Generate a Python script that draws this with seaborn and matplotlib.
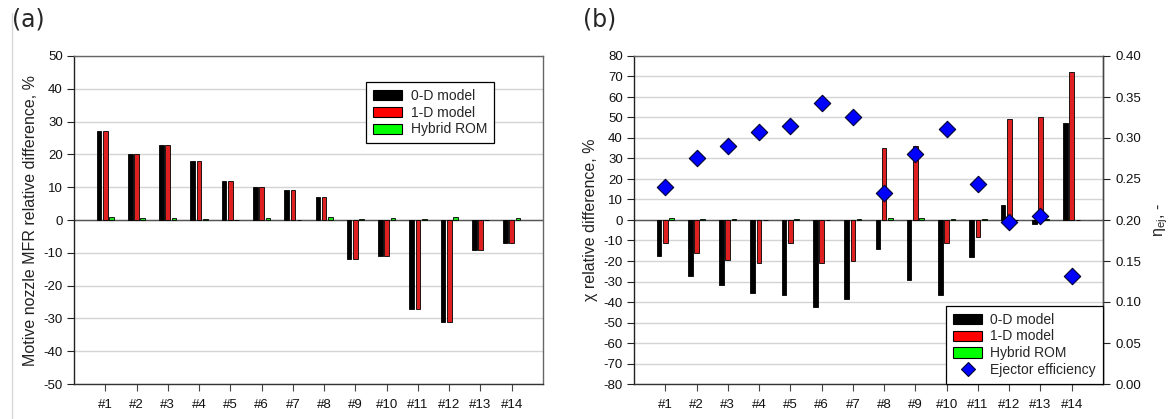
import numpy as np
import pandas as pd
import matplotlib
matplotlib.use("Agg")
import matplotlib.pyplot as plt
import seaborn as sns
from matplotlib.patches import Patch
from matplotlib.lines import Line2D
from matplotlib.ticker import MultipleLocator, FormatStrFormatter

# ---------------- data ----------------
cases = ["#1", "#2", "#3", "#4", "#5", "#6", "#7", "#8", "#9", "#10", "#11", "#12", "#13", "#14"]
series = ["0-D model", "1-D model", "Hybrid ROM"]
series_colors = ["#000000", "#ff0000", "#00ff00"]

mfr_0d = [27, 20, 23, 18, 12, 10, 9, 7, -12, -11, -27, -31, -9, -7]
mfr_1d = [27, 20, 23, 18, 12, 10, 9, 7, -12, -11, -27, -31, -9, -7]
mfr_rom = [0.9, 0.7, 0.5, 0.4, 0.1, 0.5, 0.1, 1.0, 0.4, 0.6, 0.3, 0.8, 0.1, 0.6]

chi_0d = [-17.5, -27.5, -31.5, -35.5, -36.5, -42.5, -38.5, -14.3, -29.2, -36.4, -18.1, 7.2, -2.0, 47.2]
chi_1d = [-11.3, -16.3, -19.3, -21.2, -11.3, -21.2, -20.2, 35.1, 36.0, -11.1, -8.2, 49.2, 50.1, 72.3]
chi_rom = [1.0, 0.3, 0.4, 0.1, 0.5, 0.1, 0.3, 0.9, 0.8, 0.3, 0.3, 0.1, 0.4, 0.1]

ejector_eff = [0.240, 0.275, 0.290, 0.307, 0.315, 0.343, 0.325, 0.233, 0.280, 0.311, 0.244, 0.197, 0.205, 0.132]


def long_df(a, b, c):
    return pd.DataFrame({
        "case": cases * 3,
        "model": [series[0]] * len(cases) + [series[1]] * len(cases) + [series[2]] * len(cases),
        "value": list(a) + list(b) + list(c),
    })


df_a = long_df(mfr_0d, mfr_1d, mfr_rom)
df_b = long_df(chi_0d, chi_1d, chi_rom)

# ---------------- style ----------------
sns.set_style("white")
plt.rcParams["font.family"] = ["Liberation Sans", "DejaVu Sans"]
plt.rcParams["mathtext.default"] = "regular"
plt.rcParams["axes.unicode_minus"] = False

W, H = 1172, 419
fig = plt.figure(figsize=(W / 100, H / 100), dpi=100)

ax_l = fig.add_axes([74 / W, (H - 384) / H, 469 / W, 328 / H])
ax_r = fig.add_axes([634 / W, (H - 384) / H, 469 / W, 328 / H])

TICK_FS = 9.5
LABEL_FS = 11.5
LEG_FS = 10


def style_bar_axes(ax, df, ylim, ystep, ylabel):
    sns.barplot(data=df, x="case", y="value", hue="model", hue_order=series,
                order=cases, palette=series_colors, width=0.6, gap=0.25,
                edgecolor="#000000", linewidth=0.6, errorbar=None,
                legend=False, ax=ax, zorder=2)
    ax.set_xlim(-1, len(cases))
    ax.set_ylim(*ylim)
    ax.yaxis.set_major_locator(MultipleLocator(ystep))
    ax.set_axisbelow(True)
    ax.grid(axis="y", color="#d4d4d4", linewidth=1.0, zorder=0)
    ax.grid(axis="x", visible=False)
    ax.axhline(0, color="#555555", linewidth=1.0, zorder=1.5)
    ax.set_xlabel("")
    ax.set_ylabel(ylabel, fontsize=LABEL_FS, color="#222222", labelpad=4)
    ax.tick_params(axis="y", direction="out", length=5, width=0.8, pad=3,
                   labelsize=TICK_FS, color="#222222", labelcolor="#111111", left=True)
    ax.tick_params(axis="x", direction="out", length=5, width=0.8, pad=6,
                   labelsize=TICK_FS, color="#444444", labelcolor="#111111", bottom=True)
    for side, col in [("left", "#222222"), ("bottom", "#333333"),
                      ("top", "#666666"), ("right", "#666666")]:
        ax.spines[side].set_color(col)
        ax.spines[side].set_linewidth(1.0)
        ax.spines[side].set_visible(True)


style_bar_axes(ax_l, df_a, (-50, 50), 10, "Motive nozzle MFR relative difference, %")
style_bar_axes(ax_r, df_b, (-80, 80), 10, "χ relative difference, %")

bar_handles = [Patch(facecolor=c, edgecolor="#000000", linewidth=0.8, label=s)
               for s, c in zip(series, series_colors)]

leg_kw = dict(fontsize=LEG_FS, frameon=True, fancybox=False, edgecolor="#000000",
              framealpha=1, labelspacing=0.2, handlelength=2.1, handleheight=0.75,
              handletextpad=0.6, borderpad=0.5, borderaxespad=0)

leg_l = ax_l.legend(handles=bar_handles, loc="upper right",
                    bbox_to_anchor=((494 - 74) / 469, (384 - 82) / 328), **leg_kw)
leg_l.get_frame().set_linewidth(0.9)

# secondary axis: ejector efficiency
ax2 = ax_r.twinx()
sns.scatterplot(x=np.arange(len(cases)), y=ejector_eff, marker="D", s=70,
                color="#0000ff", edgecolor="#000033", linewidth=0.8,
                ax=ax2, zorder=5, legend=False)
ax2.set_xlim(-1, len(cases))
ax2.set_ylim(0, 0.4)
ax2.yaxis.set_major_locator(MultipleLocator(0.05))
ax2.yaxis.set_major_formatter(FormatStrFormatter("%.2f"))
ax2.tick_params(axis="y", direction="out", length=5, width=0.8, pad=4,
                labelsize=TICK_FS, color="#222222", labelcolor="#111111", right=True)
ax2.set_ylabel("η$_{ej}$, -", fontsize=LABEL_FS, color="#222222", labelpad=8)
ax2.grid(False)
for side in ["left", "bottom", "top"]:
    ax2.spines[side].set_visible(False)
ax2.spines["right"].set_color("#444444")
ax2.spines["right"].set_linewidth(1.0)

eff_handle = Line2D([], [], linestyle="none", marker="D", markersize=7.5,
                    markerfacecolor="#0000ff", markeredgecolor="#000033",
                    markeredgewidth=0.8, label="Ejector efficiency")
leg_r = ax2.legend(handles=bar_handles + [eff_handle], loc="lower right",
                   bbox_to_anchor=(1.0, 0.0), **leg_kw)
leg_r.get_frame().set_linewidth(0.9)

# panel letters
fig.text(12 / W, 1 - 20 / H, "(a)", fontsize=17, va="center", ha="left",
         family=["DejaVu Sans"])
fig.text(583 / W, 1 - 20 / H, "(b)", fontsize=17, va="center", ha="left",
         family=["DejaVu Sans"])

# thin border line at the far left
fig.add_artist(Line2D([12 / W, 12 / W], [0.0, 0.97], color="#d8d8d8", linewidth=1.0))

fig.savefig("out.png", dpi=100)
